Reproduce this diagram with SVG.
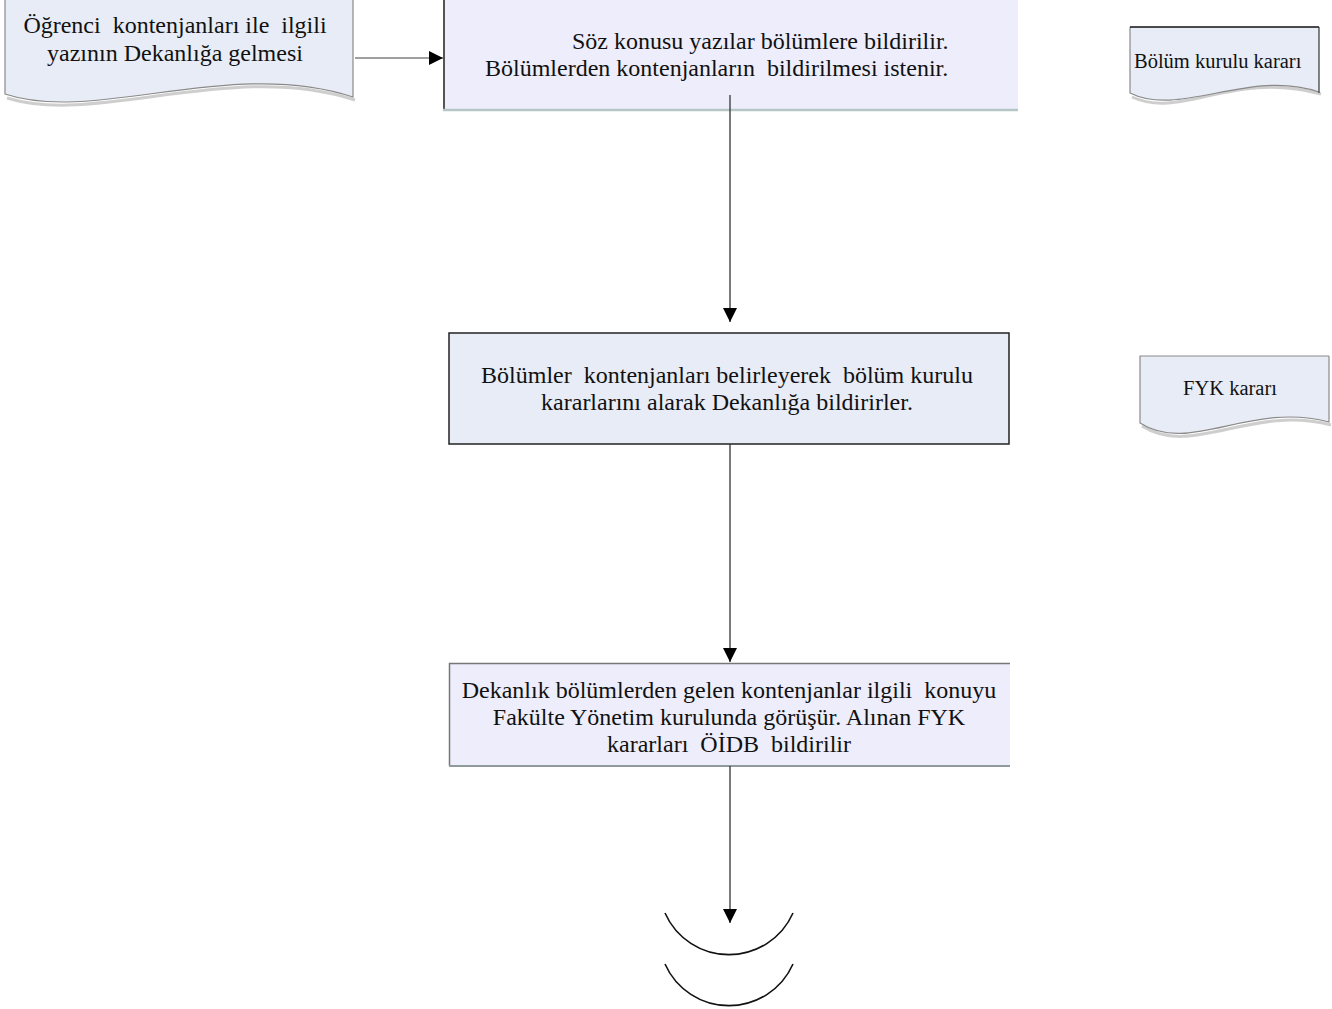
<svg xmlns="http://www.w3.org/2000/svg" width="1332" height="1009" viewBox="0 0 1332 1009">
<defs>
<style>
text{font-family:"Liberation Serif","Times New Roman",serif;fill:#111;white-space:pre}
.t{font-size:24px}
.s{font-size:20.5px}
.blue{fill:#e8ecf6}
.lav{fill:#ededfb}
.shadow{fill:none;stroke:#b9b9b9;stroke-width:3;opacity:0.7}
.edge{fill:none;stroke:#8a8a8a;stroke-width:1.2}
.conn{stroke:#333;stroke-width:1.3;fill:none}
</style>
<marker id="ah" viewBox="0 0 14 14" refX="14" refY="7" markerWidth="14" markerHeight="14" markerUnits="userSpaceOnUse" orient="auto">
<path d="M0,0 L14,7 L0,14 Z" fill="#000"/>
</marker>
</defs>

<g id="node1">
<path class="shadow" d="M7,98 C97,126 232,60 355,100"/>
<path class="blue" d="M5,-2 L353,-2 L353,97 C230,57 95,124 5,94 Z"/>
<path class="edge" d="M5,-2 L5,94 C95,124 230,57 353,97 L353,-2"/>
<text class="t" x="175" y="33" text-anchor="middle">Öğrenci  kontenjanları ile  ilgili</text>
<text class="t" x="175" y="61" text-anchor="middle">yazının Dekanlığa gelmesi</text>
</g>

<g id="node2">
<rect class="lav" x="443" y="-2" width="575" height="112"/>
<line x1="444" y1="-2" x2="444" y2="111" stroke="#555" stroke-width="2"/>
<line x1="443" y1="110" x2="1018" y2="110" stroke="#b6c6c6" stroke-width="2.5"/>
<text class="t" x="572" y="49">Söz konusu yazılar bölümlere bildirilir.</text>
<text class="t" x="485" y="76">Bölümlerden kontenjanların  bildirilmesi istenir.</text>
</g>

<g id="doc1">
<path class="shadow" d="M1132,97 C1182,120 1232,70 1321,94"/>
<path class="blue" d="M1130,27 L1319,27 L1319,92 C1250,68 1180,118 1130,93 Z"/>
<path class="edge" d="M1130,27 L1130,93 C1180,118 1250,68 1319,92"/>
<line x1="1130" y1="27" x2="1319" y2="27" stroke="#111" stroke-width="1.5"/>
<line x1="1319" y1="27" x2="1319" y2="93" stroke="#333" stroke-width="1.2"/>
<text class="s" x="1134" y="68">Bölüm kurulu kararı</text>
</g>

<g id="node3">
<rect x="449" y="333" width="560" height="111" fill="#e8ecf7" stroke="#222" stroke-width="1.5"/>
<text class="t" x="727" y="383" text-anchor="middle">Bölümler  kontenjanları belirleyerek  bölüm kurulu</text>
<text class="t" x="727" y="410" text-anchor="middle">kararlarını alarak Dekanlığa bildirirler.</text>
</g>

<g id="doc2">
<path class="shadow" d="M1142,426 C1192,458 1252,404 1331,425"/>
<path class="blue" d="M1140,356 L1329,356 L1329,422 C1250,401 1190,455 1140,423 Z"/>
<path class="edge" d="M1329,356 L1140,356 L1140,423 C1190,455 1250,401 1329,422 L1329,356"/>
<text class="s" x="1183" y="395">FYK kararı</text>
</g>

<g id="node4">
<rect class="lav" x="449" y="663" width="561" height="103"/>
<path d="M1010,663.5 L449.5,663.5 L449.5,766" fill="none" stroke="#777" stroke-width="1.5"/>
<line x1="449" y1="766" x2="1010" y2="766" stroke="#8f9a9a" stroke-width="2"/>
<text class="t" x="729" y="698" text-anchor="middle">Dekanlık bölümlerden gelen kontenjanlar ilgili  konuyu</text>
<text class="t" x="729" y="725" text-anchor="middle">Fakülte Yönetim kurulunda görüşür. Alınan FYK</text>
<text class="t" x="729" y="752" text-anchor="middle">kararları  ÖİDB  bildirilir</text>
</g>

<g id="connectors">
<line x1="355" y1="58" x2="443" y2="58" stroke="#808080" stroke-width="1.3" marker-end="url(#ah)"/>
<line class="conn" x1="730" y1="95" x2="730" y2="322" marker-end="url(#ah)"/>
<line class="conn" x1="730" y1="444" x2="730" y2="662" marker-end="url(#ah)"/>
<line class="conn" x1="730" y1="766" x2="730" y2="923" marker-end="url(#ah)"/>
</g>

<g id="end">
<path d="M665,913 A70,70 0 0 0 793,913" fill="none" stroke="#111" stroke-width="1.6"/>
<path d="M665,964 A70,70 0 0 0 793,964" fill="none" stroke="#111" stroke-width="1.6"/>
</g>
</svg>
